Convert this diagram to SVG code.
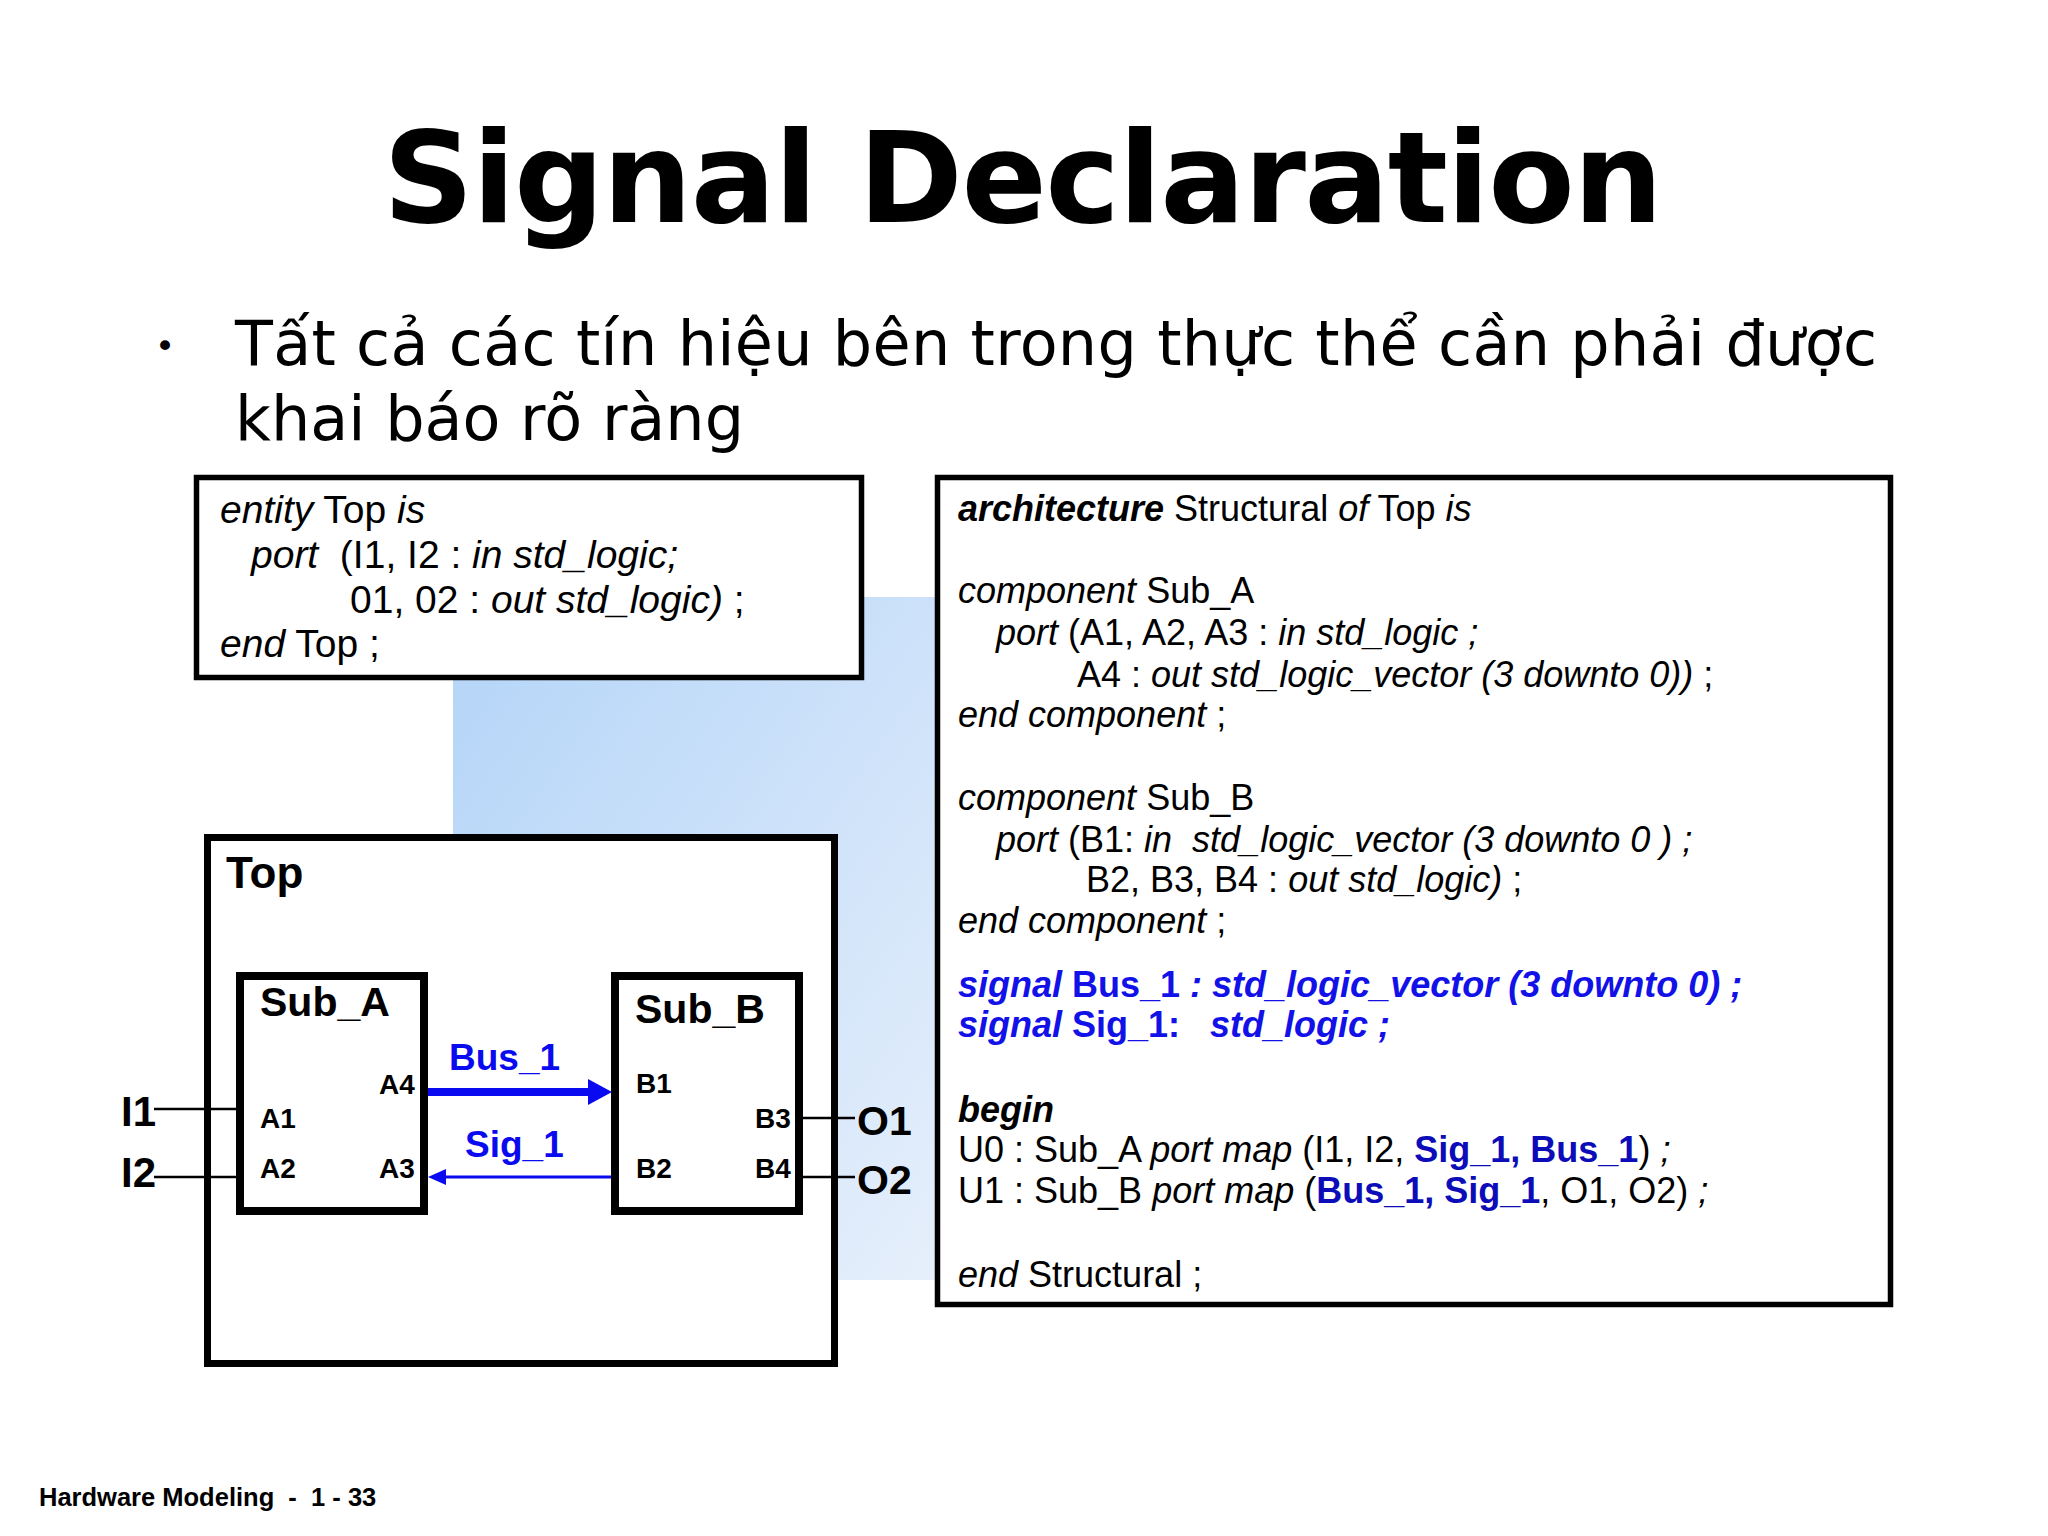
<svg xmlns="http://www.w3.org/2000/svg" width="2048" height="1536" viewBox="0 0 2048 1536">
<defs>
<linearGradient id="bg" x1="0" y1="0" x2="1" y2="1">
<stop offset="0" stop-color="#b3d4f8"/>
<stop offset="1" stop-color="#e6effb"/>
</linearGradient>
</defs>
<style>
.title{font-family:"DejaVu Sans",Verdana,sans-serif;font-weight:bold;font-size:126px;fill:#000}
.bul{font-family:"DejaVu Sans",Verdana,sans-serif;font-size:62px;fill:#000}
.dot{font-family:"DejaVu Sans",Verdana,sans-serif;font-size:34px;fill:#000}
.code{font-family:"Liberation Sans",Arial,sans-serif;fill:#000}
.lc{font-size:39px}
.rc{font-size:36px}
.i{font-style:italic}
.b{font-weight:bold}
.sig{fill:#1111e8}
.pm{fill:#0c0cb8;font-weight:bold}
.frame{fill:#fff;stroke:#000}
.lbl{font-family:"Liberation Sans",Arial,sans-serif;font-weight:bold;fill:#000}
.blu{fill:#0a0af0}
.wire{stroke:#000;stroke-width:2.5;fill:none}
.foot{font-family:"Liberation Sans",Arial,sans-serif;font-weight:bold;font-size:25.5px;fill:#000}
</style>
<rect width="2048" height="1536" fill="#fff"/>
<rect id="bgpanel" x="453" y="597" width="483" height="683" fill="url(#bg)"/>

<text class="title" x="1023" y="222" text-anchor="middle" textLength="1280" lengthAdjust="spacing">Signal Declaration</text>

<text class="dot" x="155" y="358">•</text>
<text class="bul" x="235" y="365" textLength="1642" lengthAdjust="spacing">Tất cả các tín hiệu bên trong thực thể cần phải được</text>
<text class="bul" x="235" y="440">khai báo rõ ràng</text>

<g id="entity">
<rect class="frame" x="196.5" y="477.5" width="665" height="200" stroke-width="5.5"/>
<text class="code lc" x="220" y="523"><tspan class="i">entity</tspan> Top <tspan class="i">is</tspan></text>
<text class="code lc" x="251" y="568" xml:space="preserve"><tspan class="i">port</tspan>  (I1, I2 : <tspan class="i">in std_logic;</tspan></text>
<text class="code lc" x="350" y="613">01, 02 : <tspan class="i">out std_logic)</tspan> ;</text>
<text class="code lc" x="220" y="657"><tspan class="i">end</tspan> Top ;</text>
</g>

<g id="architecture">
<rect class="frame" x="937.5" y="477.5" width="953" height="827" stroke-width="5.5"/>
<text class="code rc" x="958" y="521"><tspan class="i b">architecture</tspan> Structural <tspan class="i">of</tspan> Top <tspan class="i">is</tspan></text>
<text class="code rc" x="958" y="603"><tspan class="i">component</tspan> Sub_A</text>
<text class="code rc" x="996" y="645"><tspan class="i">port</tspan> (A1, A2, A3 : <tspan class="i">in std_logic ;</tspan></text>
<text class="code rc" x="1077" y="687">A4 : <tspan class="i">out std_logic_vector (3 downto 0))</tspan> ;</text>
<text class="code rc" x="958" y="727"><tspan class="i">end component</tspan> ;</text>
<text class="code rc" x="958" y="810"><tspan class="i">component</tspan> Sub_B</text>
<text class="code rc" x="996" y="852" xml:space="preserve"><tspan class="i">port</tspan> (B1: <tspan class="i">in  std_logic_vector (3 downto 0 ) ;</tspan></text>
<text class="code rc" x="1086" y="892">B2, B3, B4 : <tspan class="i">out std_logic)</tspan> ;</text>
<text class="code rc" x="958" y="933"><tspan class="i">end component</tspan> ;</text>
<text class="code rc sig b" x="958" y="997"><tspan class="i">signal</tspan> Bus_1 <tspan class="i">: std_logic_vector (3 downto 0) ;</tspan></text>
<text class="code rc sig b" x="958" y="1037" xml:space="preserve"><tspan class="i">signal</tspan> Sig_1:   <tspan class="i">std_logic ;</tspan></text>
<text class="code rc b i" x="958" y="1122">begin</text>
<text class="code rc" x="958" y="1162">U0 : Sub_A <tspan class="i">port map</tspan> (I1, I2, <tspan class="pm">Sig_1, Bus_1</tspan>) <tspan class="i">;</tspan></text>
<text class="code rc" x="958" y="1203">U1 : Sub_B <tspan class="i">port map</tspan> (<tspan class="pm">Bus_1, Sig_1</tspan>, O1, O2) <tspan class="i">;</tspan></text>
<text class="code rc" x="958" y="1287"><tspan class="i">end</tspan> Structural ;</text>
</g>

<g id="top">
<rect class="frame" x="207.5" y="837.5" width="627" height="526" stroke-width="7"/>
<text class="lbl" x="226" y="888" font-size="44">Top</text>
</g>

<g id="sub_a">
<rect class="frame" x="240" y="976" width="184" height="235" stroke-width="8"/>
<text class="lbl" x="260" y="1016" font-size="41">Sub_A</text>
<text class="lbl" x="379" y="1094" font-size="28">A4</text>
<text class="lbl" x="260" y="1128" font-size="28">A1</text>
<text class="lbl" x="260" y="1178" font-size="28">A2</text>
<text class="lbl" x="379" y="1178" font-size="28">A3</text>
</g>

<g id="sub_b">
<rect class="frame" x="615" y="976" width="184" height="235" stroke-width="8"/>
<text class="lbl" x="635" y="1023" font-size="41">Sub_B</text>
<text class="lbl" x="636" y="1093" font-size="28">B1</text>
<text class="lbl" x="755" y="1128" font-size="28">B3</text>
<text class="lbl" x="636" y="1178" font-size="28">B2</text>
<text class="lbl" x="755" y="1178" font-size="28">B4</text>
</g>

<g id="ports">
<text class="lbl" x="121" y="1126" font-size="42">I1</text>
<text class="lbl" x="121" y="1187" font-size="42">I2</text>
<text class="lbl" x="857" y="1135" font-size="41">O1</text>
<text class="lbl" x="857" y="1194" font-size="41">O2</text>
<text class="lbl blu" x="449" y="1070" font-size="37">Bus_1</text>
<text class="lbl blu" x="465" y="1157" font-size="37">Sig_1</text>
</g>

<g id="connectors">
<line class="wire" x1="154" y1="1109" x2="236" y2="1109"/>
<line class="wire" x1="154" y1="1177" x2="236" y2="1177"/>
<line class="wire" x1="803" y1="1118" x2="855" y2="1118"/>
<line class="wire" x1="803" y1="1177" x2="855" y2="1177"/>
<line x1="428" y1="1092" x2="592" y2="1092" stroke="#0a0af0" stroke-width="8"/>
<polygon points="588,1079 612,1092 588,1105" fill="#0a0af0"/>
<line x1="440" y1="1177" x2="611" y2="1177" stroke="#0a0af0" stroke-width="3"/>
<polygon points="446,1169 428,1177 446,1185" fill="#0a0af0"/>
</g>

<text class="foot" x="39" y="1506" xml:space="preserve">Hardware Modeling  -  1 - 33</text>
</svg>
